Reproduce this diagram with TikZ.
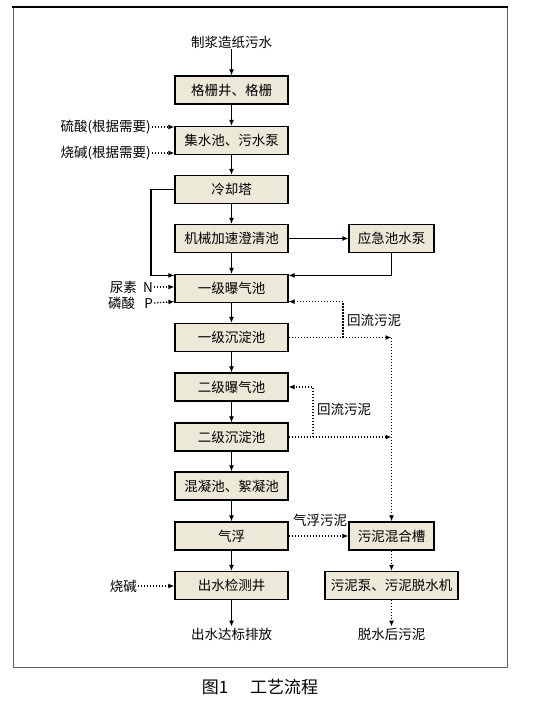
\documentclass[tikz,border=0pt]{standalone}
\usepackage{fontspec}
\setmainfont{Noto Sans CJK SC}
\usetikzlibrary{arrows.meta,positioning,calc}
\definecolor{boxfill}{RGB}{236,233,216}
\definecolor{framegray}{RGB}{95,95,95}

\begin{document}
\begin{tikzpicture}[x=1pt,y=-1pt,
    stage/.style={draw=black, line width=1.2pt, fill=boxfill, minimum width=113pt, minimum height=28pt, inner sep=0pt, font=\fontsize{13.5}{15}\selectfont},
    txt/.style={inner sep=1pt, font=\fontsize{13.5}{15}\selectfont},
    flow/.style={line width=1.1pt, -{Latex[length=6pt,width=5pt]}},
    sludge/.style={line width=1.3pt, dash pattern=on 1.3pt off 1.7pt, -{Latex[length=6pt,width=5pt]}}]
    \useasboundingbox (0,0) rectangle (553,705);
    % Frame
    \draw[framegray, line width=0.8pt] (13,7) -- (13,667) -- (507,667) -- (507,7);
    \draw[black, line width=2.5pt] (12,7) -- (508,7);
    % Main line
    \node[txt] (src) at (231.5,42) {制浆造纸污水};
    \node[stage] (grid) at (231.5,90) {格栅井、格栅};
    \node[stage] (sump) at (231.5,140.5) {集水池、污水泵};
    \node[stage] (cool) at (231.5,189.5) {冷却塔};
    \node[stage] (clar) at (231.5,238.5) {机械加速澄清池};
    \node[stage] (aer1) at (231.5,288.5) {一级曝气池};
    \node[stage] (sed1) at (231.5,337.5) {一级沉淀池};
    \node[stage] (aer2) at (231.5,387) {二级曝气池};
    \node[stage] (sed2) at (231.5,437) {二级沉淀池};
    \node[stage] (coag) at (231.5,486) {混凝池、絮凝池};
    \node[stage] (daf) at (231.5,536) {气浮};
    \node[stage] (check) at (231.5,585.5) {出水检测井};
    \node[txt] (outw) at (231.5,634) {出水达标排放};
    % Right side
    \node[stage, minimum width=85pt] (emerg) at (391.5,238.5) {应急池水泵};
    \node[stage, minimum width=85pt] (mix) at (391.5,536) {污泥混合槽};
    \node[stage, minimum width=133pt] (press) at (391.5,585.5) {污泥泵、污泥脱水机};
    \node[txt] (cake) at (391.5,634) {脱水后污泥};
    % Dosing
    \node[txt, anchor=east] (acid) at (152,127) {硫酸(根据需要)};
    \node[txt, anchor=east] (lye) at (152,153) {烧碱(根据需要)};
    \node[txt, anchor=east] (urea) at (154,287) {尿素\ \ N};
    \node[txt, anchor=east] (phos) at (154,303) {磷酸\ \ \ P};
    \node[txt, anchor=east] (lye2) at (138,586) {烧碱};
    % Water flow
    \foreach \a/\b in {src/grid, grid/sump, sump/cool, cool/clar, clar/aer1, aer1/sed1, sed1/aer2, aer2/sed2, sed2/coag, coag/daf, daf/check, check/outw}
        \draw[flow] (\a) -- (\b);
    \draw[flow, line width=1.6pt] (clar) -- (emerg);
    \coordinate (byp) at (151,189.5);
    \draw[flow] (cool.west) -- (byp) |- ($(aer1.north west)+(0,1.5)$);
    \draw[flow] (emerg.south) |- ($(aer1.north east)+(0,1.5)$);
    % Chemicals
    \draw[sludge] (acid) -- (acid -| sump.west);
    \draw[sludge] (lye) -- (lye -| sump.west);
    \draw[sludge] (urea) -- (urea -| aer1.west);
    \draw[sludge] (phos.east) -- ($(aer1.south west)+(0,-1.5)$);
    \draw[sludge] (lye2) -- (lye2 -| check.west);
    % Sludge
    \coordinate (j1) at (391.5,337.5);
    \coordinate (r1) at (343,337.5);
    \coordinate (r2) at (313,437);
    \draw[sludge] (sed1) -- (j1);
    \draw[sludge] (r1) |- ($(aer1.south east)+(0,-1.5)$);
    \node[txt, anchor=west] (ret1) at (346,320) {回流污泥};
    \draw[sludge] (sed2) -- (sed2 -| mix.north);
    \draw[sludge] (r2) |- (aer2.east);
    \node[txt, anchor=west] (ret2) at (316,409) {回流污泥};
    \draw[sludge] (j1) -- (mix);
    \draw[sludge] (daf) -- (mix);
    \node[txt] (flo) at (320,520) {气浮污泥};
    \draw[sludge] (mix) -- (press);
    \draw[sludge] (press) -- (cake);
    % Caption
    \node[font=\fontsize{17}{20}\selectfont] (cap) at (260,687) {图1\hspace{22pt}工艺流程};
\end{tikzpicture}
\end{document}
